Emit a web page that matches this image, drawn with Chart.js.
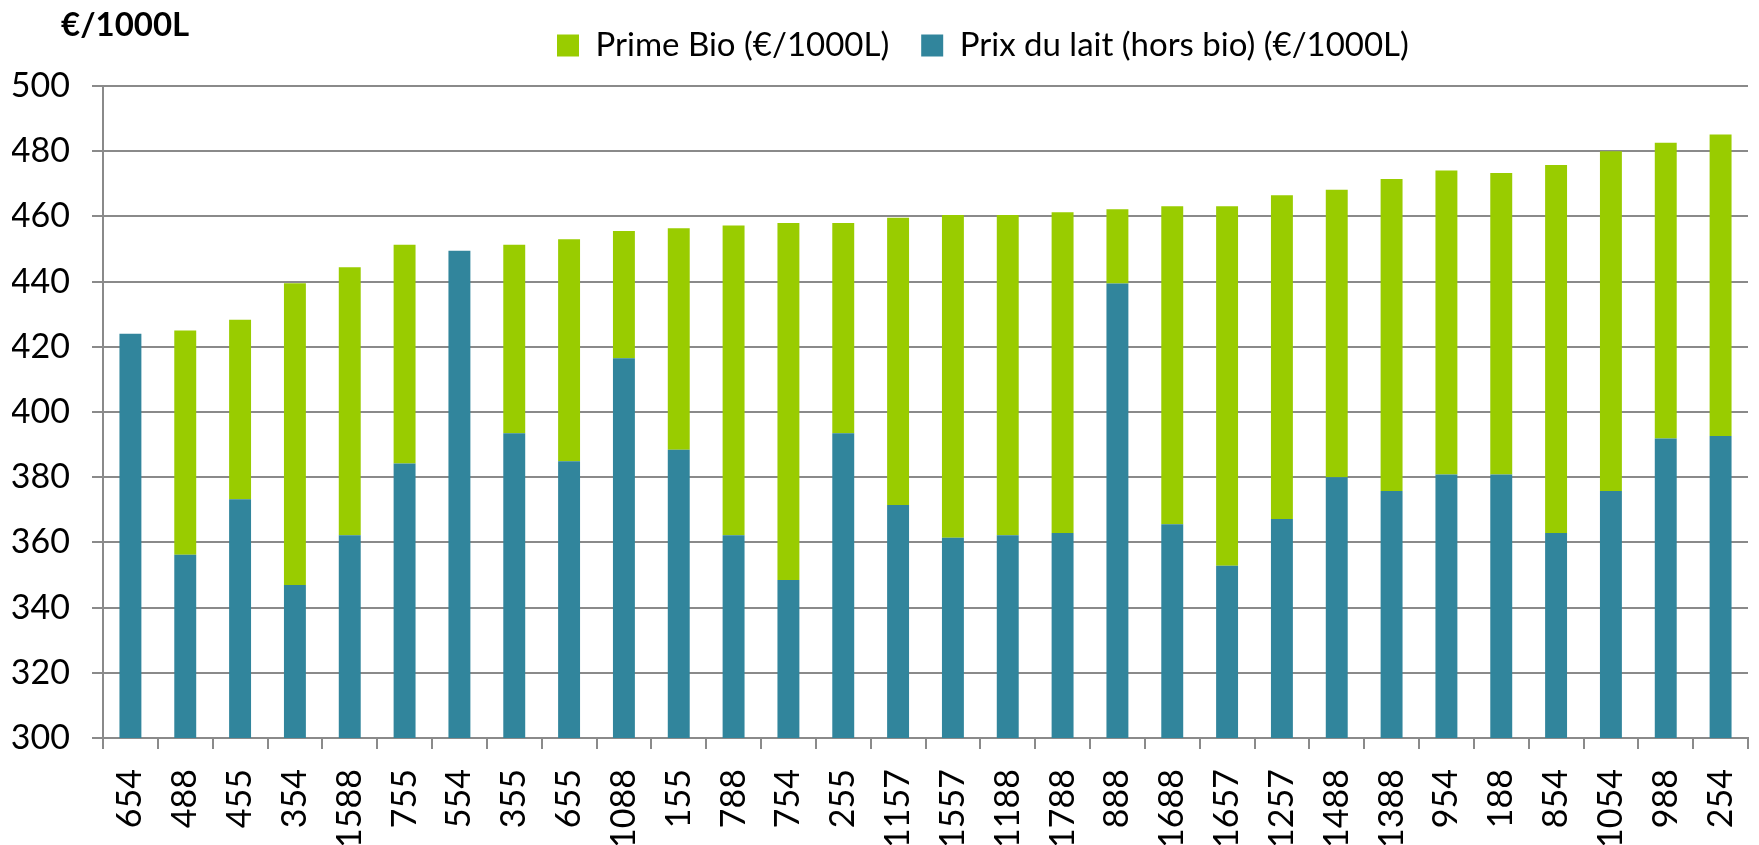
<!DOCTYPE html>
<html>
<head>
<meta charset="utf-8">
<script src="https://cdn.jsdelivr.net/npm/chart.js@4/dist/chart.umd.min.js"></script>
<style>
    body { margin: 0; background: #fff; }
</style>
</head>
<body>
<canvas id="milkChart" width="1759" height="845"></canvas>
<script>
// Categories (farm codes) along the x axis
var categories = ['654', '488', '455', '354', '1588', '755', '554', '355', '655', '1088',
    '155', '788', '754', '255', '1157', '1557', '1188', '1788', '888', '1688',
    '1657', '1257', '1488', '1388', '954', '188', '854', '1054', '988', '254'];

// Milk price without organic premium (€/1000L)
var milkPrice = [424.0, 356.2, 373.2, 346.9, 362.2, 384.2, 449.5, 393.5, 384.9, 416.5,
    388.4, 362.2, 348.5, 393.5, 371.5, 361.4, 362.2, 362.9, 439.4, 365.6,
    352.8, 367.2, 380.0, 375.8, 380.8, 380.8, 362.9, 375.8, 391.9, 392.6];

// Organic premium stacked on top (€/1000L)
var bioPremium = [0, 68.8, 55.1, 92.6, 82.2, 67.1, 0, 57.8, 68.1, 39.0,
    68.0, 95.0, 109.5, 64.5, 88.1, 99.0, 98.2, 98.4, 22.8, 97.5,
    110.3, 99.3, 88.2, 95.7, 93.3, 92.5, 112.9, 104.2, 90.7, 92.5];

var yTicks = [300, 320, 340, 360, 380, 400, 420, 440, 460, 480, 500];

var gridColor = '#8a8a8a';
var fontFamily = 'Lato, "Open Sans", sans-serif';
var legendPad = 32;
var legendFont = 33;

// Unit label in the top left corner + legend position like the original
var unitLabel = {
    id: 'unitLabel',
    afterLayout: function(chart) {
        var lg = chart.legend;
        var dx = 557 - (lg.left + legendPad);
        var dy = 45.5 - (lg.top + legendPad + legendFont / 2);
        lg.left += dx;
        lg.right += dx;
        lg.top += dy;
        lg.bottom += dy;
    },
    afterDraw: function(chart) {
        var ctx = chart.ctx;
        ctx.save();
        ctx.font = 'bold 33px ' + fontFamily;
        ctx.fillStyle = '#000';
        ctx.textAlign = 'left';
        ctx.textBaseline = 'alphabetic';
        ctx.fillText('€/1000L', 61, 36);
        ctx.restore();
    }
};

const ctx = document.getElementById('milkChart').getContext('2d');
const mainChart = new Chart(ctx, {
    type: 'bar',
    data: {
        labels: categories,
        datasets: [
            {
                label: 'Prix du lait (hors bio) (€/1000L)',
                data: milkPrice,
                backgroundColor: '#31859C',
                barPercentage: 0.4,
                categoryPercentage: 1
            }, {
                label: 'Prime Bio (€/1000L)',
                data: bioPremium,
                backgroundColor: '#99CC00',
                barPercentage: 0.4,
                categoryPercentage: 1
            }]
    },
    options: {
        responsive: false,
        animation: false,
        layout: {
            padding: { top: 11, left: 12, right: 11, bottom: 0 }
        },
        plugins: {
            legend: {
                position: 'top',
                align: 'start',
                reverse: true,
                labels: {
                    boxWidth: 22,
                    boxHeight: 22,
                    padding: legendPad,
                    color: '#000',
                    font: { family: fontFamily, size: legendFont }
                }
            },
            tooltip: { enabled: false }
        },
        scales: {
            x: {
                stacked: true,
                afterFit: function(scale) {
                    scale.height = 107;
                    scale.paddingLeft = 0;
                    scale.paddingRight = 0;
                },
                grid: {
                    drawOnChartArea: false,
                    drawTicks: true,
                    tickLength: 11,
                    color: gridColor,
                    lineWidth: 2
                },
                border: { color: gridColor, width: 2 },
                ticks: {
                    color: '#000',
                    minRotation: 90,
                    maxRotation: 90,
                    padding: 20,
                    autoSkip: false,
                    font: { family: fontFamily, size: 34 }
                }
            },
            y: {
                stacked: true,
                min: 300,
                max: 500,
                afterBuildTicks: function(axis) {
                    axis.ticks = yTicks.map(function(v) { return { value: v }; });
                },
                afterFit: function(scale) {
                    scale.width = 91;
                },
                grid: {
                    color: gridColor,
                    lineWidth: 2,
                    tickLength: 11
                },
                border: { color: gridColor, width: 2 },
                ticks: {
                    color: '#000',
                    padding: 22,
                    font: { family: fontFamily, size: 34 }
                }
            }
        }
    },
    plugins: [unitLabel]
});
</script>
</body>
</html>
